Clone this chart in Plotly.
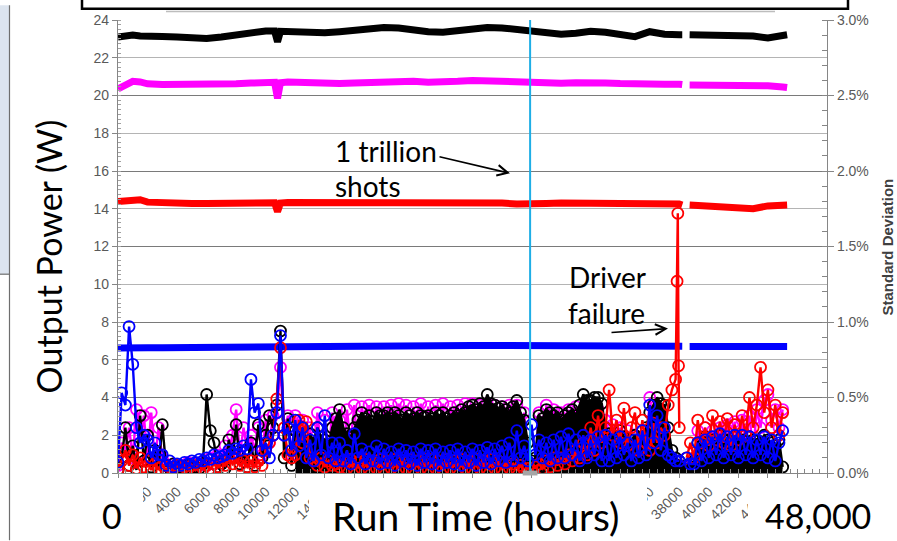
import plotly.graph_objects as go

# ---------------- data ----------------
# Output power (W) of four channels vs run time (hours)
power_hours = [0, 500, 1000, 1500, 2000, 3000, 4000, 5000, 6000, 7000,
               8000, 9000, 10000, 10600, 10800, 11000, 11500, 12000, 13000, 14000,
               15000, 16000, 17000, 18000, 19000, 20000, 21000, 22000, 23000, 24000,
               25000, 26000, 27000, 28000, 29000, 30000, 31000, 32000, 33000, 34000,
               35000, 36000, 37000, 38000, 38200, 38450, 38700, 40000,
               41000, 42000, 43000, 44000, 45000, 45300]
power_black = [23.10, 23.15, 23.20, 23.15, 23.12, 23.12, 23.10, 23.08, 23.02, 23.10,
               23.22, 23.32, 23.42, 23.42, 22.85, 23.40, 23.38, 23.33, 23.28, 23.32,
               23.38, 23.48, 23.58, 23.60, 23.58, 23.45, 23.38, 23.35, 23.45, 23.55,
               23.60, 23.58, 23.48, 23.40, 23.30, 23.25, 23.30, 23.40, 23.35, 23.25,
               23.12, 23.38, 23.25, 23.22, 23.22, None, 23.22, 23.22,
               23.20, 23.20, 23.15, 23.05, 23.20, 23.22]
power_magenta = [20.35, 20.55, 20.75, 20.72, 20.62, 20.58, 20.57, 20.57, 20.57, 20.58,
                 20.62, 20.66, 20.70, 20.70, 19.85, 20.68, 20.72, 20.70, 20.66, 20.65,
                 20.63, 20.66, 20.70, 20.74, 20.78, 20.76, 20.70, 20.70, 20.75, 20.80,
                 20.78, 20.76, 20.72, 20.66, 20.62, 20.65, 20.68, 20.70, 20.66, 20.63,
                 20.65, 20.62, 20.60, 20.60, 20.58, None, 20.56, 20.55,
                 20.55, 20.55, 20.57, 20.52, 20.45, 20.42]
power_red = [14.38, 14.40, 14.45, 14.48, 14.35, 14.30, 14.28, 14.28, 14.28, 14.30,
             14.30, 14.33, 14.33, 14.32, 13.85, 14.30, 14.33, 14.33, 14.35, 14.33,
             14.30, 14.30, 14.30, 14.32, 14.30, 14.30, 14.30, 14.30, 14.30, 14.30,
             14.30, 14.30, 14.25, 14.30, 14.28, 14.30, 14.30, 14.28, 14.28, 14.28,
             14.28, 14.27, 14.25, 14.25, 14.20, None, 14.20, 14.15,
             14.15, 14.10, 14.00, 14.15, 14.20, 14.20]
power_blue = [6.62, 6.64, 6.66, 6.65, 6.64, 6.64, 6.65, 6.65, 6.66, 6.66,
              6.68, 6.68, 6.70, 6.70, 6.70, 6.70, 6.70, 6.70, 6.72, 6.74,
              6.75, 6.76, 6.76, 6.75, 6.74, 6.74, 6.74, 6.74, 6.75, 6.76,
              6.76, 6.75, 6.74, 6.78, 6.74, 6.72, 6.72, 6.72, 6.72, 6.72,
              6.72, 6.72, 6.72, 6.72, 6.72, None, 6.70, 6.70,
              6.70, 6.70, 6.70, 6.70, 6.70, 6.70]

# Standard deviation (%) vs run time (hours)
sd_hours = [0, 250, 500, 750, 1000, 1250, 1500, 1750, 2000, 2250, 2500, 2750,
            3000, 3250, 3500, 3750, 4000, 4250, 4500, 4750, 5000, 5250, 5500, 5750,
            6000, 6250, 6500, 6750, 7000, 7250, 7500, 7750, 8000, 8250, 8500, 8750,
            9000, 9250, 9500, 9750, 10000, 10250, 10500, 10750, 11000, 11250, 11500, 11750,
            12000, 12250, 12500, 12750, 13000, 13250, 13500, 13750, 14000, 14250, 14500, 14750,
            15000, 15250, 15500, 15750, 16000, 16250, 16500, 16750, 17000, 17250, 17500, 17750,
            18000, 18250, 18500, 18750, 19000, 19250, 19500, 19750, 20000, 20250, 20500, 20750,
            21000, 21250, 21500, 21750, 22000, 22250, 22500, 22750, 23000, 23250, 23500, 23750,
            24000, 24250, 24500, 24750, 25000, 25250, 25500, 25750, 26000, 26250, 26500, 26750,
            27000, 27250, 27500, 27750, 28000, 28250, 28500, 28750, 29000, 29250, 29500, 29750,
            30000, 30250, 30500, 30750, 31000, 31250, 31500, 31750, 32000, 32250, 32500, 32750,
            33000, 33250, 33500, 33750, 34000, 34250, 34500, 34750, 35000, 35250, 35500, 35750,
            36000, 36250, 36500, 36750, 37000, 37250, 37500, 37750, 38000, 38250, 38500, 38750,
            39000, 39250, 39500, 39750, 40000, 40250, 40500, 40750, 41000, 41250, 41500, 41750,
            42000, 42250, 42500, 42750, 43000, 43250, 43500, 43750, 44000, 44250, 44500, 44750,
            45000]
sd_black = [0.02, 0.10, 0.30, 0.05, 0.18, 0.02, 0.38, 0.08, 0.25, 0.04, 0.15, 0.03,
            0.32, 0.05, 0.03, 0.06, 0.02, 0.04, 0.03, 0.05, 0.02, 0.04, 0.03, 0.06,
            0.52, 0.28, 0.20, 0.04, 0.06, 0.03, 0.22, 0.10, 0.32, 0.06, 0.14, 0.04,
            0.20, 0.05, 0.32, 0.10, 0.25, 0.38, 0.30, 0.45, 0.94, 0.10, 0.36, 0.05,
            0.28, 0.22, 0.30, 0.18, 0.26, 0.20, 0.30, 0.24, 0.22, 0.18, 0.30, 0.36,
            0.42, 0.30, 0.26, 0.24, 0.30, 0.35, 0.40, 0.36, 0.38, 0.34, 0.40, 0.38,
            0.38, 0.40, 0.36, 0.40, 0.38, 0.35, 0.40, 0.38, 0.36, 0.40, 0.38, 0.37,
            0.38, 0.36, 0.40, 0.38, 0.40, 0.36, 0.38, 0.40, 0.38, 0.42, 0.40, 0.44,
            0.45, 0.42, 0.46, 0.44, 0.52, 0.46, 0.45, 0.43, 0.44, 0.42, 0.40, 0.44,
            0.48, 0.40, 0.35, 0.20, 0.08, 0.10, 0.38, 0.36, 0.42, 0.40, 0.38, 0.40,
            0.35, 0.38, 0.40, 0.42, 0.38, 0.45, 0.52, 0.48, 0.48, 0.50, 0.50, 0.46,
            0.30, 0.26, 0.25, 0.22, 0.28, 0.24, 0.20, 0.22, 0.25, 0.22, 0.24, 0.30,
            0.40, 0.45, 0.50, 0.46, 0.45, 0.30, 0.15, 0.10, 0.08, None, 0.05, 0.06,
            0.08, 0.20, 0.18, 0.24, 0.20, 0.22, 0.18, 0.25, 0.22, 0.22, 0.20, 0.24,
            0.20, 0.22, 0.18, 0.24, 0.22, 0.22, 0.20, 0.25, 0.22, 0.20, 0.18, 0.22,
            0.04]
sd_magenta = [0.05, 0.20, 0.15, 0.30, 0.10, 0.42, 0.20, 0.38, 0.10, 0.40, 0.08, 0.30,
              0.10, 0.06, 0.04, 0.06, 0.03, 0.05, 0.04, 0.07, 0.03, 0.06, 0.05, 0.08,
              0.05, 0.10, 0.06, 0.12, 0.06, 0.18, 0.10, 0.25, 0.42, 0.12, 0.30, 0.15,
              0.25, 0.15, 0.30, 0.12, 0.35, 0.20, 0.38, 0.40, 0.70, 0.25, 0.38, 0.12,
              0.38, 0.10, 0.35, 0.20, 0.30, 0.08, 0.40, 0.15, 0.35, 0.10, 0.40, 0.12,
              0.35, 0.08, 0.42, 0.20, 0.45, 0.10, 0.44, 0.25, 0.45, 0.12, 0.44, 0.20,
              0.44, 0.10, 0.45, 0.25, 0.46, 0.12, 0.45, 0.20, 0.44, 0.10, 0.46, 0.22,
              0.44, 0.12, 0.45, 0.20, 0.46, 0.10, 0.44, 0.25, 0.45, 0.12, 0.46, 0.18,
              0.46, 0.10, 0.45, 0.22, 0.46, 0.12, 0.45, 0.20, 0.44, 0.10, 0.45, 0.22,
              0.45, 0.12, 0.40, 0.05, 0.04, 0.05, 0.40, 0.10, 0.45, 0.20, 0.42, 0.10,
              0.40, 0.15, 0.42, 0.10, 0.44, 0.20, 0.42, 0.10, 0.40, 0.15, 0.42, 0.10,
              0.35, 0.10, 0.32, 0.15, 0.30, 0.10, 0.28, 0.12, 0.25, 0.10, 0.28, 0.12,
              0.50, 0.30, 0.42, 0.20, 0.15, 0.10, 0.08, 0.05, 0.05, None, 0.04, 0.03,
              0.03, 0.28, 0.10, 0.30, 0.15, 0.28, 0.12, 0.30, 0.20, 0.32, 0.15, 0.34,
              0.12, 0.35, 0.20, 0.38, 0.15, 0.42, 0.30, 0.48, 0.52, 0.35, 0.42, 0.30,
              0.42]
sd_blue = [0.07, 0.53, 0.45, 0.97, 0.72, 0.30, 0.20, 0.25, 0.22, 0.10, 0.20, 0.12,
           0.12, 0.05, 0.08, 0.04, 0.06, 0.05, 0.07, 0.06, 0.08, 0.07, 0.09, 0.08,
           0.10, 0.09, 0.12, 0.10, 0.11, 0.12, 0.15, 0.13, 0.16, 0.15, 0.18, 0.16,
           0.62, 0.40, 0.46, 0.15, 0.20, 0.10, 0.25, 0.40, 0.91, 0.25, 0.30, 0.15,
           0.35, 0.18, 0.30, 0.10, 0.22, 0.08, 0.30, 0.12, 0.38, 0.10, 0.20, 0.08,
           0.20, 0.08, 0.15, 0.06, 0.26, 0.10, 0.16, 0.06, 0.14, 0.08, 0.18, 0.06,
           0.16, 0.07, 0.14, 0.05, 0.16, 0.08, 0.15, 0.06, 0.14, 0.05, 0.16, 0.07,
           0.15, 0.06, 0.16, 0.05, 0.14, 0.07, 0.15, 0.06, 0.16, 0.05, 0.14, 0.07,
           0.16, 0.05, 0.15, 0.07, 0.17, 0.06, 0.16, 0.08, 0.18, 0.07, 0.20, 0.08,
           0.28, 0.10, 0.18, 0.08, 0.32, 0.12, 0.22, 0.10, 0.20, 0.08, 0.22, 0.10,
           0.24, 0.10, 0.26, 0.12, 0.22, 0.08, 0.25, 0.10, 0.22, 0.12, 0.24, 0.08,
           0.25, 0.08, 0.22, 0.10, 0.24, 0.12, 0.20, 0.08, 0.22, 0.10, 0.28, 0.12,
           0.45, 0.20, 0.38, 0.15, 0.30, 0.12, 0.10, 0.08, 0.08, None, 0.10, 0.06,
           0.06, 0.20, 0.08, 0.22, 0.10, 0.24, 0.12, 0.26, 0.10, 0.24, 0.12, 0.25,
           0.10, 0.25, 0.12, 0.24, 0.10, 0.22, 0.12, 0.24, 0.10, 0.22, 0.08, 0.20,
           0.28]
sd_red_hours = [0, 250, 500, 750, 1000, 1250, 1500, 1750, 2000, 2250, 2500, 2750,
                3000, 3250, 3500, 3750, 4000, 4250, 4500, 4750, 5000, 5250, 5500, 5750,
                6000, 6250, 6500, 6750, 7000, 7250, 7500, 7750, 8000, 8250, 8500, 8750,
                9000, 9250, 9500, 9750, 10000, 10250, 10500, 10750, 11000, 11250, 11500, 11750,
                12000, 12250, 12500, 12750, 13000, 13250, 13500, 13750, 14000, 14250, 14500, 14750,
                15000, 15250, 15500, 15750, 16000, 16250, 16500, 16750, 17000, 17250, 17500, 17750,
                18000, 18250, 18500, 18750, 19000, 19250, 19500, 19750, 20000, 20250, 20500, 20750,
                21000, 21250, 21500, 21750, 22000, 22250, 22500, 22750, 23000, 23250, 23500, 23750,
                24000, 24250, 24500, 24750, 25000, 25250, 25500, 25750, 26000, 26250, 26500, 26750,
                27000, 27250, 27500, 27750, 28000, 28250, 28500, 28750, 29000, 29250, 29500, 29750,
                30000, 30250, 30500, 30750, 31000, 31250, 31500, 31750, 32000, 32250, 32500, 32750,
                33000, 33250, 33500, 33750, 34000, 34250, 34500, 34750, 35000, 35250, 35500, 35750,
                36000, 36250, 36500, 36750, 37000, 37250, 37500, 37750, 37850, 37900, 37950, 38000,
                38250, 38500, 38750,
                39000, 39250, 39500, 39750, 40000, 40250, 40500, 40750, 41000, 41250, 41500, 41750,
                42000, 42250, 42500, 42750, 43000, 43250, 43500, 43750, 44000, 44250, 44500, 44750,
                45000]
sd_red = [0.02, 0.08, 0.15, 0.05, 0.12, 0.03, 0.10, 0.04, 0.08, 0.02, 0.06, 0.03,
          0.05, 0.02, 0.04, 0.03, 0.05, 0.02, 0.04, 0.03, 0.05, 0.02, 0.06, 0.03,
          0.05, 0.03, 0.06, 0.04, 0.08, 0.05, 0.10, 0.06, 0.10, 0.05, 0.08, 0.04,
          0.08, 0.04, 0.08, 0.05, 0.15, 0.20, 0.25, 0.49, 0.83, 0.30, 0.12, 0.10,
          0.12, 0.35, 0.20, 0.34, 0.10, 0.08, 0.05, 0.10, 0.04, 0.08, 0.05, 0.06,
          0.04, 0.08, 0.03, 0.09, 0.02, 0.07, 0.03, 0.09, 0.02, 0.08, 0.03, 0.09,
          0.02, 0.08, 0.03, 0.09, 0.02, 0.08, 0.03, 0.09, 0.02, 0.08, 0.03, 0.09,
          0.02, 0.09, 0.03, 0.08, 0.02, 0.09, 0.03, 0.08, 0.02, 0.09, 0.03, 0.08,
          0.02, 0.09, 0.03, 0.08, 0.02, 0.09, 0.03, 0.08, 0.02, 0.07, 0.03, 0.06,
          0.02, 0.05, 0.02, 0.03, 0.02, 0.04, 0.06, 0.03, 0.08, 0.04, 0.10, 0.05,
          0.10, 0.06, 0.12, 0.08, 0.15, 0.10, 0.20, 0.12, 0.30, 0.15, 0.38, 0.20,
          0.30, 0.55, 0.25, 0.35, 0.20, 0.43, 0.18, 0.30, 0.40, 0.15, 0.35, 0.20,
          0.15, 0.33, 0.20, 0.30, 0.25, 0.45, 0.55, 0.62, 1.27, 1.72, 0.71, 0.30,
          None, 0.10, 0.20,
          0.10, 0.35, 0.20, 0.30, 0.18, 0.38, 0.22, 0.34, 0.20, 0.36, 0.18, 0.32,
          0.22, 0.38, 0.25, 0.50, 0.30, 0.45, 0.70, 0.40, 0.55, 0.30, 0.45, 0.25,
          0.40]

x_tick_vals = [0, 2000, 4000, 6000, 8000, 10000, 12000, 14000, 16000, 18000,
               20000, 22000, 24000, 26000, 28000, 30000, 32000, 34000, 36000,
               38000, 40000, 42000, 44000, 46000, 48000]
y_tick_vals = [0, 2, 4, 6, 8, 10, 12, 14, 16, 18, 20, 22, 24]
y2_tick_vals = [0.0, 0.5, 1.0, 1.5, 2.0, 2.5, 3.0]
milestone_hours = 27900  # 1 trillion shots
dense_start = 48  # index of 12000 h: from here on the black cloud is solid

assert len(power_hours) == len(power_black) == len(power_magenta) == len(power_red) == len(power_blue)
assert len(sd_hours) == len(sd_black) == len(sd_magenta) == len(sd_blue)
assert len(sd_red_hours) == len(sd_red)

# ---------------- layout helpers ----------------
W, H = 897, 541
L, R, T, B = 118, 70, 15, 68
PW, PH = W - L - R, H - T - B


def fx(p):
    return (p - L) / PW


def fy(p):
    return (H - B - p) / PH


BIG = "Lato, Carlito, Calibri, sans-serif"
ARIAL = "Arial, Liberation Sans, sans-serif"

fig = go.Figure()

for ys, col in [(power_black, "#000000"), (power_magenta, "#ff00ff"),
                (power_red, "#ff0000"), (power_blue, "#0000ff")]:
    fig.add_trace(go.Scatter(x=power_hours, y=ys, mode="lines",
                             line=dict(color=col, width=7), connectgaps=False,
                             yaxis="y", showlegend=False))


def sd_trace(xs, ys, col, fill=None):
    return go.Scatter(x=xs, y=ys, mode="lines+markers",
                      line=dict(color=col, width=2.4),
                      marker=dict(symbol="circle-open", size=11, color=col,
                                  line=dict(width=1.8, color=col)),
                      fill=fill, fillcolor=col if fill else None,
                      connectgaps=False, yaxis="y2", showlegend=False)


fig.add_trace(sd_trace(sd_hours, sd_magenta, "#ff00ff"))
fig.add_trace(sd_trace(sd_hours[:dense_start + 1], sd_black[:dense_start + 1], "#000000"))
fig.add_trace(sd_trace(sd_hours[dense_start:], sd_black[dense_start:], "#000000", fill="tozeroy"))
fig.add_trace(sd_trace(sd_red_hours, sd_red, "#ff0000"))
fig.add_trace(sd_trace(sd_hours, sd_blue, "#0000ff"))

shapes = [
    # left slide panel
    dict(type="rect", xref="paper", yref="paper", x0=fx(0), x1=fx(9.5), y0=fy(272), y1=fy(0),
         fillcolor="#dce4ef", line=dict(width=0), layer="above"),
    dict(type="line", xref="paper", yref="paper", x0=fx(9.5), x1=fx(9.5), y0=fy(541), y1=fy(0),
         line=dict(color="#6e6e6e", width=1.2), layer="above"),
    dict(type="line", xref="paper", yref="paper", x0=fx(0), x1=fx(9.5), y0=fy(272), y1=fy(272),
         line=dict(color="#6e6e6e", width=1.2), layer="above"),
    # cut-off legend box at top
    dict(type="rect", xref="paper", yref="paper", x0=fx(82), x1=fx(848), y0=fy(3.5), y1=fy(-20),
         line=dict(color="#000000", width=2.5), fillcolor="rgba(0,0,0,0)", layer="above"),
    dict(type="line", xref="paper", yref="paper", x0=fx(166), x1=fx(775), y0=fy(6.5), y1=fy(6.5),
         line=dict(color="#bdbdbd", width=1.5), layer="above"),
    # 1 trillion shots marker
    dict(type="line", xref="x", yref="paper", x0=milestone_hours, x1=milestone_hours, y0=0, y1=1,
         line=dict(color="#1eaee6", width=2), layer="above"),
    dict(type="rect", xref="x", yref="paper", x0=milestone_hours - 500, x1=milestone_hours + 500,
         y0=fy(475.5), y1=fy(470.5), fillcolor="#a6a6a6", line=dict(width=0), layer="above"),
    # white label boxes covering the axis labels
    dict(type="rect", xref="paper", yref="paper", x0=fx(100), x1=fx(143), y0=fy(541), y1=fy(479),
         fillcolor="#ffffff", line=dict(width=0), layer="above"),
    dict(type="rect", xref="paper", yref="paper", x0=fx(309), x1=fx(647), y0=fy(541), y1=fy(478),
         fillcolor="#ffffff", line=dict(width=0), layer="above"),
    dict(type="rect", xref="paper", yref="paper", x0=fx(748), x1=fx(897), y0=fy(541), y1=fy(478),
         fillcolor="#ffffff", line=dict(width=0), layer="above"),
]

annotations = [
    dict(text="0", x=fx(112), y=fy(516), xref="paper", yref="paper", showarrow=False,
         xanchor="center", yanchor="middle", font=dict(family=BIG, size=34, color="#000000")),
    dict(text="Run Time (hours)", x=fx(475), y=fy(516), xref="paper", yref="paper", showarrow=False,
         xanchor="center", yanchor="middle", font=dict(family=BIG, size=39, color="#000000")),
    dict(text="48,000", x=fx(818), y=fy(516), xref="paper", yref="paper", showarrow=False,
         xanchor="center", yanchor="middle", font=dict(family=BIG, size=34, color="#000000")),
    dict(text="Output Power (W)", x=fx(48), y=fy(254), xref="paper", yref="paper", showarrow=False,
         textangle=-90, xanchor="center", yanchor="middle",
         font=dict(family=BIG, size=34, color="#000000")),
    dict(text="<b>Standard Deviation</b>", x=fx(887), y=fy(245), xref="paper", yref="paper",
         showarrow=False, textangle=-90, xanchor="center", yanchor="middle",
         font=dict(family=ARIAL, size=15, color="#404040")),
    dict(text="1 trillion", x=fx(333), y=fy(147), xref="paper", yref="paper", showarrow=False,
         xanchor="left", yanchor="middle", font=dict(family=BIG, size=28, color="#000000")),
    dict(text="shots", x=fx(333), y=fy(183), xref="paper", yref="paper", showarrow=False,
         xanchor="left", yanchor="middle", font=dict(family=BIG, size=28, color="#000000")),
    dict(text="Driver", x=fx(567), y=fy(275), xref="paper", yref="paper", showarrow=False,
         xanchor="left", yanchor="middle", font=dict(family=BIG, size=28, color="#000000")),
    dict(text="failure", x=fx(566), y=fy(311), xref="paper", yref="paper", showarrow=False,
         xanchor="left", yanchor="middle", font=dict(family=BIG, size=28, color="#000000")),
    dict(text="", x=fx(510), y=fy(170), xref="paper", yref="paper", showarrow=True,
         ax=-72, ay=-17, arrowhead=5, arrowsize=1.3, arrowwidth=1.6, arrowcolor="#000000"),
    dict(text="", x=fx(668), y=fy(327), xref="paper", yref="paper", showarrow=True,
         ax=-58, ay=4, arrowhead=5, arrowsize=1.3, arrowwidth=1.6, arrowcolor="#000000"),
]

fig.update_layout(
    width=W, height=H,
    margin=dict(l=L, r=R, t=T, b=B, pad=0),
    paper_bgcolor="#ffffff", plot_bgcolor="#ffffff",
    showlegend=False,
    shapes=shapes, annotations=annotations,
    xaxis=dict(range=[0, 48000], tickvals=x_tick_vals, ticktext=[str(v) for v in x_tick_vals],
               tickangle=-45, tickfont=dict(family=ARIAL, size=14, color="#595959"),
               showline=True, linecolor="#868686", linewidth=1.2,
               ticks="outside", ticklen=4, tickcolor="#868686",
               minor=dict(dtick=500, ticks="inside", ticklen=4, tickcolor="#868686"),
               showgrid=False, zeroline=False),
    yaxis=dict(range=[0, 24], tickvals=y_tick_vals, ticktext=[str(v) for v in y_tick_vals],
               tickfont=dict(family=ARIAL, size=14, color="#595959"),
               showline=True, linecolor="#868686", linewidth=1.2,
               ticks="outside", ticklen=5, tickcolor="#868686",
               minor=dict(dtick=0.25, ticks="inside", ticklen=3, tickcolor="#a0a0a0"),
               showgrid=True, gridcolor="#b4b4b4", gridwidth=1, zeroline=False),
    yaxis2=dict(range=[0, 3], overlaying="y", side="right", tickvals=y2_tick_vals,
                ticktext=["%.1f%%" % v for v in y2_tick_vals],
                tickfont=dict(family=ARIAL, size=14, color="#595959"),
                showline=True, linecolor="#868686", linewidth=1.2,
                ticks="outside", ticklen=6, tickcolor="#868686",
                minor=dict(dtick=0.1, ticks="inside", ticklen=5, tickcolor="#868686"),
                showgrid=True, gridcolor="#7a7a7a", gridwidth=1, zeroline=False),
)

fig.write_html("out.html")
